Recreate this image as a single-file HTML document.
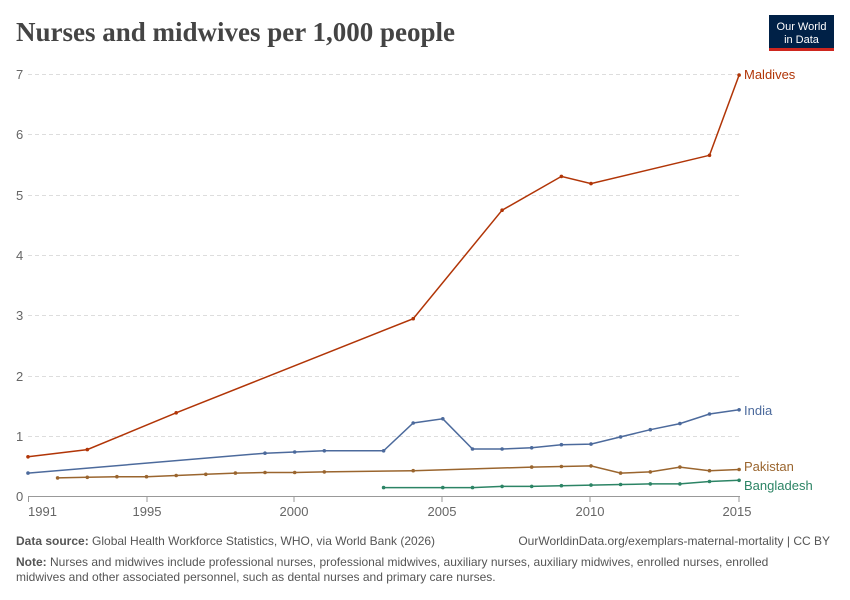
<!DOCTYPE html>
<html><head><meta charset="utf-8"><style>
body{margin:0;background:#fff;}
svg{display:block;font-family:"Liberation Sans",sans-serif;}
</style></head><body>
<svg width="850" height="600" xmlns="http://www.w3.org/2000/svg">
<defs>
<marker id="mr" markerWidth="4" markerHeight="4" refX="2" refY="2" markerUnits="userSpaceOnUse"><circle cx="2" cy="2" r="1.8" fill="#b13507"/></marker>
<marker id="mi" markerWidth="4" markerHeight="4" refX="2" refY="2" markerUnits="userSpaceOnUse"><circle cx="2" cy="2" r="1.8" fill="#4c6a9c"/></marker>
<marker id="mp" markerWidth="4" markerHeight="4" refX="2" refY="2" markerUnits="userSpaceOnUse"><circle cx="2" cy="2" r="1.8" fill="#9a652e"/></marker>
<marker id="mb" markerWidth="4" markerHeight="4" refX="2" refY="2" markerUnits="userSpaceOnUse"><circle cx="2" cy="2" r="1.8" fill="#2c8465"/></marker>
</defs>
<text x="16" y="41" font-family="Liberation Serif,serif" font-size="27" font-weight="bold" fill="#444">Nurses and midwives per 1,000 people</text>
<rect x="769" y="15" width="65" height="34" fill="#002147"/>
<rect x="769" y="48" width="65" height="3" fill="#ce261e"/>
<text x="801.5" y="30" font-size="11" fill="#fff" text-anchor="middle">Our World</text>
<text x="801.5" y="43" font-size="11" fill="#fff" text-anchor="middle">in Data</text>
<g stroke="#ddd" stroke-dasharray="4,3" stroke-width="1">
<line x1="28" x2="740" y1="74.5" y2="74.5"/><line x1="28" x2="740" y1="134.5" y2="134.5"/>
<line x1="28" x2="740" y1="195.5" y2="195.5"/><line x1="28" x2="740" y1="255.5" y2="255.5"/>
<line x1="28" x2="740" y1="315.5" y2="315.5"/><line x1="28" x2="740" y1="376.5" y2="376.5"/>
<line x1="28" x2="740" y1="436.5" y2="436.5"/>
</g>
<line x1="28" x2="740" y1="496.5" y2="496.5" stroke="#999"/>
<g fill="#666" font-size="13">
<text x="16" y="79">7</text><text x="16" y="139">6</text><text x="16" y="200">5</text><text x="16" y="260">4</text>
<text x="16" y="320">3</text><text x="16" y="381">2</text><text x="16" y="441">1</text><text x="16" y="501">0</text>
<text x="28" y="516">1991</text><text x="147" y="516" text-anchor="middle">1995</text>
<text x="294" y="516" text-anchor="middle">2000</text><text x="442" y="516" text-anchor="middle">2005</text>
<text x="590" y="516" text-anchor="middle">2010</text><text x="737" y="516" text-anchor="middle">2015</text>
</g>
<g stroke="#999"><line x1="28.5" x2="28.5" y1="497" y2="502"/><line x1="147" x2="147" y1="497" y2="502"/><line x1="294" x2="294" y1="497" y2="502"/><line x1="442" x2="442" y1="497" y2="502"/><line x1="590" x2="590" y1="497" y2="502"/><line x1="739" x2="739" y1="497" y2="502"/></g>
<g fill="none" stroke-width="1.5">
<polyline stroke="#b13507" marker-start="url(#mr)" marker-mid="url(#mr)" marker-end="url(#mr)" points="28,456.8 87.3,449.6 176.2,412.8 413.2,318.7 502.1,210.2 561.4,176.4 591,183.6 709.5,155.3 739.1,75.1"/>
<polyline stroke="#4c6a9c" marker-start="url(#mi)" marker-mid="url(#mi)" marker-end="url(#mi)" points="28,473.1 265,453.2 294.7,452 324.3,450.8 383.6,450.8 413.2,423 442.8,418.8 472.5,449 502.1,449 531.7,447.8 561.4,444.7 591,444.1 620.6,436.9 650.3,429.7 679.9,423.6 709.5,414 739.1,409.8"/>
<polyline stroke="#9a652e" marker-start="url(#mp)" marker-mid="url(#mp)" marker-end="url(#mp)" points="57.6,477.9 87.3,477.3 116.9,476.7 146.5,476.7 176.2,475.5 205.8,474.3 235.4,473.1 265,472.5 294.7,472.5 324.3,471.9 413.2,470.7 531.7,467.1 561.4,466.5 591,465.9 620.6,473.1 650.3,471.9 679.9,467.1 709.5,470.7 739.1,469.5"/>
<polyline stroke="#2c8465" marker-start="url(#mb)" marker-mid="url(#mb)" marker-end="url(#mb)" points="383.6,487.6 442.8,487.6 472.5,487.6 502.1,486.4 531.7,486.4 561.4,485.7 591,485.1 620.6,484.5 650.3,483.9 679.9,483.9 709.5,481.5 739.1,480.3"/>
</g>
<text x="744" y="79" font-size="13" fill="#b13507">Maldives</text>
<text x="744" y="415" font-size="13" fill="#4c6a9c">India</text>
<text x="744" y="471" font-size="13" fill="#9a652e">Pakistan</text>
<text x="744" y="490" font-size="13" fill="#2c8465">Bangladesh</text>
<text x="16" y="545" font-size="12" fill="#555"><tspan font-weight="bold">Data source:</tspan> Global Health Workforce Statistics, WHO, via World Bank (2026)</text>
<text x="830" y="545" font-size="12" fill="#555" text-anchor="end">OurWorldinData.org/exemplars-maternal-mortality | CC BY</text>
<text x="16" y="566" font-size="12" fill="#555"><tspan font-weight="bold">Note:</tspan> Nurses and midwives include professional nurses, professional midwives, auxiliary nurses, auxiliary midwives, enrolled nurses, enrolled</text>
<text x="16" y="581" font-size="12" fill="#555">midwives and other associated personnel, such as dental nurses and primary care nurses.</text>
</svg>
</body></html>
